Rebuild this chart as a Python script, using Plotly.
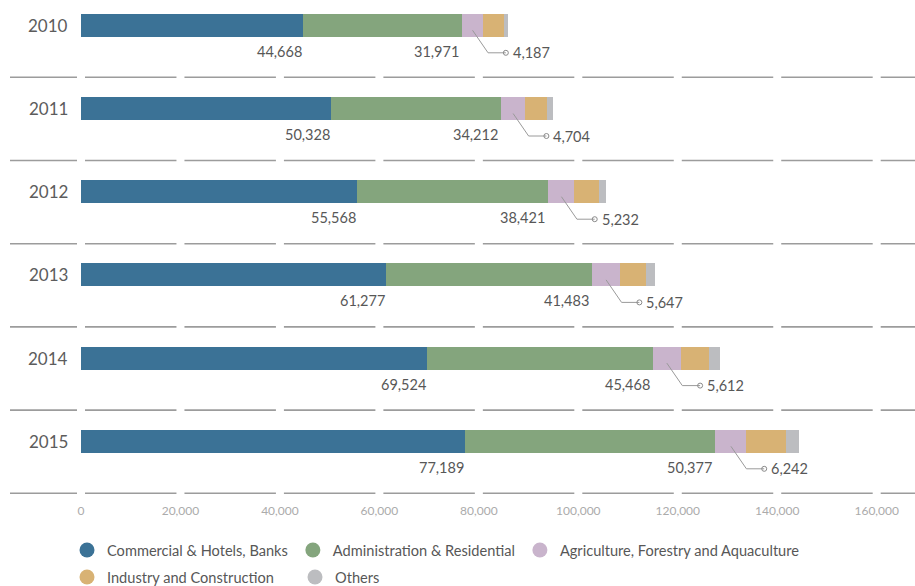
import plotly.graph_objects as go

# Electricity consumption by sector, 2010-2015
years = ["2010", "2011", "2012", "2013", "2014", "2015"]
commercial = [44668, 50328, 55568, 61277, 69524, 77189]
administration = [31971, 34212, 38421, 41483, 45468, 50377]
agriculture = [4187, 4704, 5232, 5647, 5612, 6242]
industry = [4200, 4400, 4950, 5250, 5750, 7900]
others = [750, 1200, 1400, 1800, 2200, 2600]

series_names = [
    "Commercial & Hotels, Banks",
    "Administration & Residential",
    "Agriculture, Forestry and Aquaculture",
    "Industry and Construction",
    "Others",
]
colors = ["#3b7296", "#84a57d", "#c9b4cc", "#d8b274", "#bcbdc0"]
legend_rows = ["legend", "legend", "legend", "legend2", "legend2"]
tick_vals = [0, 20000, 40000, 60000, 80000, 100000, 120000, 140000, 160000]
tick_text = ["0", "20,000", "40,000", "60,000", "80,000", "100,000", "120,000", "140,000", "160,000"]

W, H = 915, 586
FONT = "Lato"
TEXT = "#575757"

# axis geometry (pixels)
x0_px, x160_px = 81.0, 876.7
sx = (x160_px - x0_px) / 160000.0          # px per unit
x_min = -x0_px / sx
x_max = (W - x0_px) / sx
row_px = 83.2
plot_h = 498
y_top = -25.3 / row_px
y_bot = y_top + plot_h / row_px

def px_x(p):
    return p / sx

def px_y(p):
    return p / row_px

ypos = list(range(len(years)))
fig = go.Figure()

all_series = [commercial, administration, agriculture, industry, others]
for name, vals, col, lg in zip(series_names, all_series, colors, legend_rows):
    fig.add_trace(go.Bar(
        y=ypos, x=vals, orientation="h", name=name,
        marker=dict(color=col, line=dict(width=0)),
        width=23 / row_px, showlegend=False,
    ))
    # circular legend swatch
    fig.add_trace(go.Scatter(
        x=[None], y=[None], mode="markers", name=name,
        marker=dict(color=col, size=15, symbol="circle"),
        showlegend=True, legend=lg,
    ))

annotations = []
lead_x, lead_y = [], []
dot_x, dot_y = [], []
label_dy = px_y(26)
for i, yr in enumerate(years):
    c = commercial[i]
    a = administration[i]
    g = agriculture[i]
    # year label
    annotations.append(dict(x=px_x(70 - x0_px), y=i, xref="x", yref="y", text=yr,
                            showarrow=False, xanchor="right", yanchor="middle",
                            font=dict(family=FONT, size=17, color="#5c5c5c")))
    # commercial & administration values
    annotations.append(dict(x=c, y=i + label_dy, xref="x", yref="y", text=f"{c:,}",
                            showarrow=False, xanchor="right", yanchor="middle", xshift=1,
                            font=dict(family=FONT, size=14.5, color=TEXT)))
    annotations.append(dict(x=c + a, y=i + label_dy, xref="x", yref="y", text=f"{a:,}",
                            showarrow=False, xanchor="right", yanchor="middle", xshift=-1,
                            font=dict(family=FONT, size=14.5, color=TEXT)))
    # agriculture callout
    sx0 = c + a + g / 2
    ly = i + px_y(27.5)
    x1 = sx0 + px_x(15.5)
    x2 = x1 + px_x(17.8)
    lead_x += [sx0, x1, x2, None]
    lead_y += [i + px_y(5), ly, ly, None]
    dot_x.append(x2)
    dot_y.append(ly)
    annotations.append(dict(x=x2 + px_x(5), y=ly, xref="x", yref="y", text=f"{g:,}",
                            showarrow=False, xanchor="left", yanchor="middle",
                            font=dict(family=FONT, size=14.5, color=TEXT)))

fig.add_trace(go.Scatter(x=lead_x, y=lead_y, mode="lines",
                         line=dict(color="#9a9a9a", width=1),
                         showlegend=False, hoverinfo="skip"))
fig.add_trace(go.Scatter(x=dot_x, y=dot_y, mode="markers",
                         marker=dict(symbol="circle-open", size=5, color="#8a8a8a",
                                     line=dict(width=1)),
                         showlegend=False, hoverinfo="skip"))

# broken separator lines under each row, gapped at every tick
shapes = []
gap = px_x(4)
bounds = [x_min + px_x(10)] + tick_vals + [x_max]
for i in range(len(years)):
    yl = i + px_y(52)
    for k in range(len(bounds) - 1):
        a0 = bounds[k] + (gap if k > 0 else 0)
        a1 = bounds[k + 1] - (gap if k + 1 < len(bounds) - 1 else 0)
        shapes.append(dict(type="line", xref="x", yref="y", x0=a0, x1=a1, y0=yl, y1=yl,
                           line=dict(color="#9c9c9c", width=1.6)))

legend_font = dict(family=FONT, size=14.6, color=TEXT)
fig.update_layout(
    width=W, height=H,
    margin=dict(l=0, r=0, t=0, b=H - plot_h, autoexpand=False),
    barmode="stack",
    plot_bgcolor="white", paper_bgcolor="white",
    xaxis=dict(range=[x_min, x_max], tickvals=tick_vals, ticktext=tick_text,
               showgrid=False, zeroline=False, showline=False, ticks="",
               ticklabelstandoff=4,
               tickfont=dict(family=FONT, size=12, color="#ababab")),
    yaxis=dict(range=[y_bot, y_top], showticklabels=False, showgrid=False,
               zeroline=False, showline=False),
    shapes=shapes,
    annotations=annotations,
    legend=dict(orientation="h", x=67 / W, xanchor="left", y=-(534 - plot_h) / plot_h,
                yanchor="top", traceorder="normal", font=legend_font,
                itemsizing="trace", bgcolor="rgba(0,0,0,0)"),
    legend2=dict(orientation="h", x=67 / W, xanchor="left", y=-(561 - plot_h) / plot_h,
                 yanchor="top", traceorder="normal", font=legend_font,
                 entrywidth=183, entrywidthmode="pixels",
                 itemsizing="trace", bgcolor="rgba(0,0,0,0)"),
    showlegend=True,
)

fig.write_html("out.html")
